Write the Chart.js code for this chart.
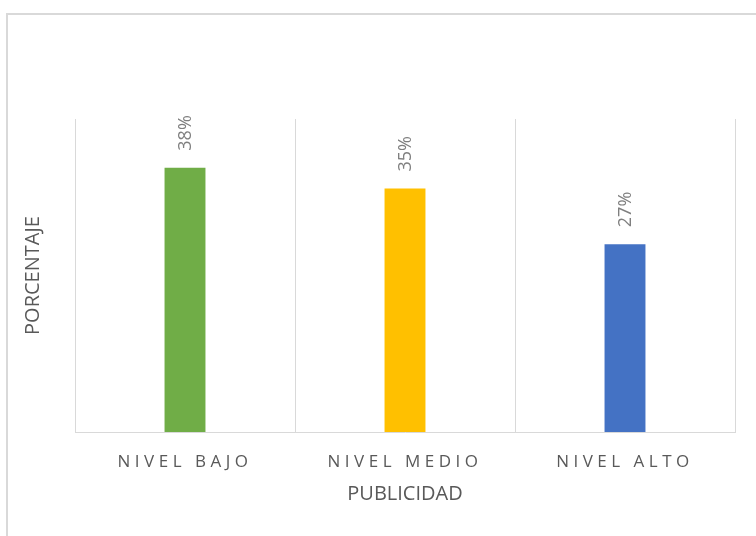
<!DOCTYPE html>
<html>
<head>
<meta charset="utf-8">
<script src="https://cdn.jsdelivr.net/npm/chart.js@4.4.1/dist/chart.umd.min.js"></script>
<style>
  html, body { margin: 0; padding: 0; background: #fff; }
  body { width: 756px; height: 536px; overflow: hidden; position: relative; }
  .frame { position: absolute; left: 6px; top: 13px; width: 800px; height: 600px; border: 2px solid #d9d9d9; box-sizing: border-box; }
  .wrap { position: absolute; left: 0; top: 0; width: 756px; height: 536px; }
</style>
</head>
<body>
<div class="frame"></div>
<div class="wrap"><canvas id="chart" width="756" height="536"></canvas></div>
<script>
const categories = ["NIVEL BAJO", "NIVEL MEDIO", "NIVEL ALTO"]
const percentages = [38, 35, 27]
const barColors = ["#70AD47", "#FFC000", "#4472C4"]
const xTitle = "PUBLICIDAD"
const yTitle = "PORCENTAJE"

const FONT = "'Open Sans', 'Liberation Sans', sans-serif"

// rotated percentage labels above each bar
const valueLabels = {
  id: "valueLabels",
  afterDatasetsDraw(chart) {
    const ctx = chart.ctx
    const meta = chart.getDatasetMeta(0)
    ctx.save()
    ctx.font = `18px ${FONT}`
    ctx.fillStyle = "#7f7f7f"
    ctx.textAlign = "left"
    ctx.textBaseline = "middle"
    meta.data.forEach((bar, i) => {
      ctx.save()
      ctx.translate(bar.x + 1, bar.y - 17)
      ctx.rotate(-Math.PI / 2)
      ctx.fillText(percentages[i] + "%", 0, 0)
      ctx.restore()
    })
    ctx.restore()
  }
}

// category labels are letter-spaced
const spacedTicks = {
  id: "spacedTicks",
  afterUpdate(chart) {
    const scale = chart.scales.x
    if (scale._spaced) return
    const draw = scale.drawLabels
    scale.drawLabels = function (area) {
      this.ctx.save()
      this.ctx.letterSpacing = "4.5px"
      draw.call(this, area)
      this.ctx.restore()
    }
    scale._spaced = true
  }
}

new Chart(document.getElementById("chart"), {
  type: "bar",
  data: {
    labels: categories,
    datasets: [{
      data: percentages,
      backgroundColor: barColors,
      categoryPercentage: 1,
      barPercentage: 0.186
    }]
  },
  options: {
    responsive: false,
    animation: false,
    layout: { padding: { top: 119, right: 21, left: 0, bottom: 0 } },
    plugins: { legend: { display: false }, tooltip: { enabled: false } },
    scales: {
      x: {
        afterFit(scale) { scale.height = 104 },
        offset: true,
        grid: { display: true, offset: true, color: "#d9d9d9", lineWidth: 1, drawTicks: false },
        border: { display: true, color: "#d9d9d9", width: 1 },
        ticks: { color: "#595959", padding: 20, font: { family: FONT, size: 17 } },
        title: { display: true, text: xTitle, color: "#595959", font: { family: FONT, size: 20 }, padding: { top: 0, bottom: 30 } }
      },
      y: {
        afterFit(scale) { scale.width = 75 },
        min: 0,
        max: 45,
        grid: { display: false },
        border: { display: false },
        ticks: { display: false },
        title: { display: true, text: yTitle, color: "#595959", font: { family: FONT, size: 20 }, padding: { top: 21, bottom: 0 } }
      }
    }
  },
  plugins: [valueLabels, spacedTicks]
})
</script>
</body>
</html>
